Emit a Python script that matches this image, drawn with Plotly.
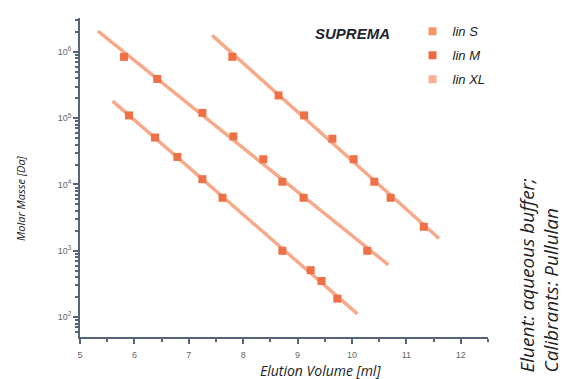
import numpy as np
import plotly.graph_objects as go

# ---- data ----
series_names = ["lin S", "lin M", "lin XL"]

vol_S = [5.90, 6.38, 6.79, 7.25, 7.62, 8.72, 9.24, 9.44, 9.73]
mw_S = [1.1e5, 5.1e4, 2.6e4, 1.2e4, 6.3e3, 1.0e3, 5.1e2, 3.5e2, 1.9e2]
fit_range_S = [5.60, 10.10]

vol_M = [5.81, 6.42, 7.25, 7.82, 8.37, 8.72, 9.11, 10.28]
mw_M = [8.4e5, 3.9e5, 1.2e5, 5.3e4, 2.4e4, 1.1e4, 6.3e3, 1.0e3]
fit_range_M = [5.33, 10.67]

vol_XL = [7.80, 8.65, 9.12, 9.64, 10.03, 10.41, 10.71, 11.32]
mw_XL = [8.4e5, 2.2e5, 1.1e5, 4.9e4, 2.4e4, 1.1e4, 6.3e3, 2.3e3]
fit_range_XL = [7.43, 11.60]

x_ticks = [5, 6, 7, 8, 9, 10, 11, 12]
y_ticks = [1e2, 1e3, 1e4, 1e5, 1e6]
y_tick_labels = ["10<sup>2</sup>", "10<sup>3</sup>", "10<sup>4</sup>", "10<sup>5</sup>", "10<sup>6</sup>"]

# ---- styles ----
legend_colors = ["#f4956a", "#ee6a3e", "#f5b292"]
marker_color = "#ee7046"
line_color = "#f6aa8a"
axis_color = "#56657a"

fig = go.Figure()

datasets = [(vol_S, mw_S, fit_range_S), (vol_M, mw_M, fit_range_M), (vol_XL, mw_XL, fit_range_XL)]

# calibration fit lines
for (vx, my, rng) in datasets:
    coef = np.polyfit(vx, np.log10(my), 1)
    xs = np.array(rng)
    ys = 10 ** np.polyval(coef, xs)
    fig.add_trace(go.Scatter(x=xs, y=ys, mode="lines",
                             line=dict(color=line_color, width=3.5),
                             showlegend=False, hoverinfo="skip"))

# calibration points
for name, (vx, my, rng) in zip(series_names, datasets):
    fig.add_trace(go.Scatter(x=vx, y=my, mode="markers",
                             marker=dict(symbol="square", size=8, color=marker_color,
                                         line=dict(width=0)),
                             showlegend=False, name=name))

# legend entries
for i, (name, c) in enumerate(zip(series_names, legend_colors)):
    fig.add_trace(go.Scatter(x=[None], y=[None], mode="markers", name="<i>" + name + "</i>",
                             legendgroup="g%d" % i,
                             marker=dict(symbol="square", size=8, color=c)))

minor_y = [k * 10 ** n for n in range(1, 7) for k in range(2, 10)]

fig.update_layout(
    width=566, height=379,
    margin=dict(l=80, r=78, t=18, b=42),
    paper_bgcolor="white", plot_bgcolor="white",
    font=dict(family="Liberation Sans, Arial, sans-serif", color="#333"),
    showlegend=True,
    legend=dict(x=0.815, y=1.005, xanchor="left", yanchor="top",
                bgcolor="rgba(0,0,0,0)", tracegroupgap=4, itemwidth=30,
                font=dict(family="Liberation Sans Narrow, Liberation Sans, sans-serif",
                          size=13, color="#222")),
    xaxis=dict(type="linear", range=[5, 12.5], tickvals=x_ticks,
               ticktext=[str(v) for v in x_ticks],
               showgrid=False, zeroline=False,
               showline=True, linecolor=axis_color, linewidth=2,
               ticks="outside", ticklen=5, tickwidth=1.5, tickcolor=axis_color,
               minor=dict(ticks="outside", ticklen=3, dtick=0.5, tickcolor=axis_color, showgrid=False),
               tickfont=dict(size=9, color="#666"), ticklabelstandoff=3),
    yaxis=dict(type="log", range=[1.7, 6.51], tickvals=y_ticks, ticktext=y_tick_labels,
               showgrid=False, zeroline=False,
               showline=True, linecolor=axis_color, linewidth=2,
               ticks="outside", ticklen=5, tickwidth=1.5, tickcolor=axis_color,
               minor=dict(ticks="outside", ticklen=3, tickvals=minor_y, tickcolor=axis_color, showgrid=False),
               tickfont=dict(size=9, color="#666")),
)

# axis titles placed as annotations to match the reference positions
fig.add_annotation(text="<i>Elution Volume [ml]</i>", xref="paper", yref="paper",
                   x=(320 - 80) / 408, y=(337 - 370) / 319, xanchor="center", yanchor="middle",
                   showarrow=False, borderpad=0,
                   font=dict(family="Open Sans, sans-serif", size=14, color="#222"))
fig.add_annotation(text="<i>Molar Masse [Da]</i>", xref="paper", yref="paper",
                   x=(20 - 80) / 408, y=(337 - 198) / 319, xanchor="center", yanchor="middle",
                   textangle=-90, showarrow=False,
                   font=dict(family="Open Sans, sans-serif", size=11, color="#222"))

fig.add_annotation(text="<b><i>SUPREMA</i></b>", xref="paper", yref="paper",
                   x=(313 - 80) / 408, y=(337 - 33) / 319, xanchor="left", yanchor="middle",
                   showarrow=False,
                   font=dict(family="Liberation Sans, Arial, sans-serif", size=15, color="#1e2530"))

fig.add_annotation(text="<i>Eluent: aqueous buffer;<br>Calibrants: Pullulan</i>",
                   xref="paper", yref="paper", x=(539 - 80) / 408, y=(337 - 374) / 319,
                   xanchor="center", yanchor="bottom", textangle=-90, align="left",
                   showarrow=False, borderpad=0,
                   font=dict(family="Open Sans, sans-serif", size=19, color="#222"))

fig.write_html("out.html")
